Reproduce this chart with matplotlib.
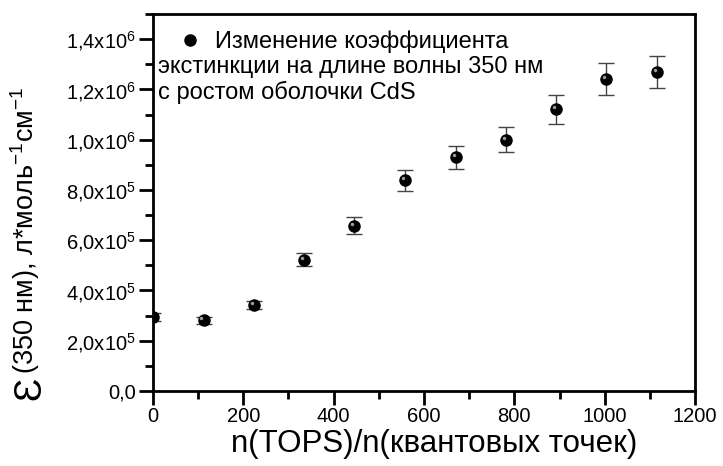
import matplotlib
matplotlib.use("Agg")
import matplotlib.pyplot as plt
import matplotlib.transforms as mtransforms
from matplotlib.ticker import MultipleLocator, FuncFormatter, AutoMinorLocator

plt.rcParams['font.family'] = ['Liberation Sans', 'DejaVu Sans']
plt.rcParams['mathtext.default'] = 'regular'

# TOPS / QD ratio and extinction coefficient at 350 nm
ratio = [0, 112, 223, 335, 446, 558, 670, 781, 893, 1004, 1116]
eps = [2.94e5, 2.82e5, 3.42e5, 5.22e5, 6.58e5, 8.38e5, 9.30e5, 1.00e6, 1.12e6, 1.242e6, 1.27e6]
eps_err = [1.5e4, 1.4e4, 1.7e4, 2.6e4, 3.3e4, 4.2e4, 4.6e4, 5.0e4, 5.6e4, 6.3e4, 6.4e4]

legend_lines = ["Изменение коэффициента",
                "экстинкции на длине волны 350 нм",
                "с ростом оболочки CdS"]


def sci_fmt(v, pos):
    if v == 0:
        return "0,0"
    exp = 0
    m = v
    while abs(m) >= 10:
        m /= 10
        exp += 1
    return f"{m:.1f}".replace(".", ",") + "x10$^{" + str(exp) + "}$"


fig = plt.figure(figsize=(7.23, 4.66), dpi=100)
ax = fig.add_axes([0.2116, 0.161, 0.7497, 0.809])

ax.errorbar(ratio, eps, yerr=eps_err, fmt='none', ecolor='#444444',
            elinewidth=1.0, capsize=6, capthick=1.0, zorder=2)
ax.plot(ratio, eps, 'o', color='black', markersize=8, zorder=3)
# small highlight on the balls
hl = ax.transData + mtransforms.ScaledTranslation(-1.5 / 72, 1.5 / 72, fig.dpi_scale_trans)
ax.plot(ratio, eps, 'o', color='#9a9a9a', markersize=2.5, markeredgewidth=0,
        transform=hl, zorder=4)

ax.set_xlim(0, 1200)
ax.set_ylim(0, 1.5e6)
ax.xaxis.set_major_locator(MultipleLocator(200))
ax.xaxis.set_minor_locator(AutoMinorLocator(2))
ax.yaxis.set_major_locator(MultipleLocator(2e5))
ax.yaxis.set_minor_locator(AutoMinorLocator(2))
ax.yaxis.set_major_formatter(FuncFormatter(sci_fmt))

for s in ax.spines.values():
    s.set_linewidth(2)
ax.tick_params(which='major', direction='out', length=10, width=2, labelsize=14.5)
ax.tick_params(which='minor', direction='out', length=5.5, width=2)
ax.tick_params(axis='x', pad=1.5)
ax.tick_params(axis='y', labelsize=14.5, pad=2)

ax.set_xlabel("n(TOPS)/n(квантовых точек)", fontsize=22.5, labelpad=0)
ax.xaxis.set_label_coords(0.518, -0.1)

# y label: big epsilon plus the rest
fig.text(0.0415, 0.1416, "Ɛ", rotation=90, fontsize=28, ha='center', va='bottom')
fig.text(0.035, 0.198, "(350 нм), л*моль$^{-1}$см$^{-1}$", rotation=90,
         fontsize=19.5, ha='center', va='bottom')

# legend: marker + first line, then the other two lines under it
ax.plot([], [], 'o', color='black', markersize=8, label=legend_lines[0])
ax.legend(loc='center left', bbox_to_anchor=(0.047, 0.926), frameon=False,
          fontsize=17, handlelength=1.0, handletextpad=0.55,
          borderpad=0, borderaxespad=0)
ax.text(0.009, 0.859, legend_lines[1], transform=ax.transAxes, fontsize=17, va='center')
ax.text(0.009, 0.793, legend_lines[2], transform=ax.transAxes, fontsize=17, va='center')

fig.savefig("out.png", dpi=100)
